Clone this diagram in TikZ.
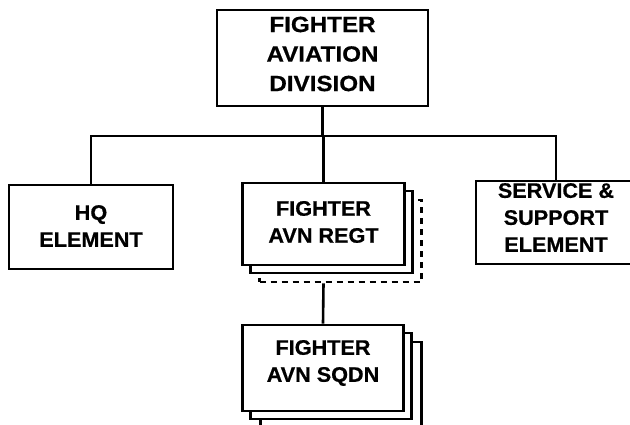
\documentclass[tikz,border=0pt]{standalone}
\usepackage{fontspec}
\newfontfamily\lblfont[FakeStretch=1.03,FakeBold=0.6]{Liberation Sans}
\newfontfamily\topfont[FakeStretch=1.1,FakeBold=0.6]{Liberation Sans}
\begin{document}
\begin{tikzpicture}[x=1pt,y=-1pt,
  box/.style={draw=black,fill=white,line width=2.8pt,inner sep=0pt,minimum width=#1},
  box/.default=162pt,
  dbox/.style={box=#1,dash pattern=on 6pt off 5pt},
  lbl/.style={align=center,font=\lblfont\bfseries\fontsize{21}{27}\selectfont,inner sep=0pt},
  toplbl/.style={align=center,font=\topfont\bfseries\fontsize{22}{29.5}\selectfont,inner sep=0pt},
  conn/.style={line width=2.6pt}]
\fill[white] (0,0) rectangle (630,425);
\useasboundingbox (0,0) rectangle (630,425);
% connector junctions
\coordinate (busL) at (91,136);
\coordinate (busR) at (556,136);
% boxes
\node[box=211pt,minimum height=96pt] (top) at (322.5,58) {};
\node[box=164pt,minimum height=84pt] (hq) at (91,227) {};
\node[box=160pt,minimum height=83pt] (svc) at (556,222.5) {};
\node[dbox=162pt,minimum height=82pt] (regt3) at (340.5,241) {};
\node[box=162pt,minimum height=82pt] (regt2) at (331.5,232) {};
\node[box=162pt,minimum height=82pt] (regt) at (323.5,224) {};
\node[box=161pt,minimum height=86pt] (sqdn3) at (341,385) {};
\node[box=161pt,minimum height=86pt] (sqdn2) at (331,376) {};
\node[box=161pt,minimum height=86pt] (sqdn) at (323,368) {};
% connectors
\draw[conn] (top.south) -- (top.south |- busL);
\draw[conn] (hq.north) -- (busL) -- (busR) -- (svc.north);
\draw[conn] (regt.north) -- (regt.north |- busL);
\draw[conn] (regt.south |- regt3.south) -- (sqdn.north);
% labels
\node[toplbl] (topt) at ([yshift=4pt]top.center) {FIGHTER\\AVIATION\\DIVISION};
\node[lbl] (hqt) at ([yshift=1pt]hq.center) {HQ\\ELEMENT};
\node[lbl] (svct) at ([yshift=5pt]svc.center) {SERVICE \&\\SUPPORT\\ELEMENT};
\node[lbl] (regtt) at ([yshift=2pt]regt.center) {FIGHTER\\AVN REGT};
\node[lbl] (sqdnt) at ([yshift=5pt]sqdn.center) {FIGHTER\\AVN SQDN};
\end{tikzpicture}
\end{document}
